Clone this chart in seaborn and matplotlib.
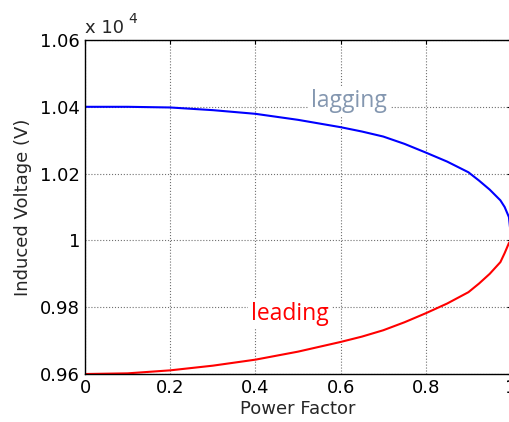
import pandas as pd
import matplotlib
matplotlib.use("Agg")
import matplotlib.pyplot as plt
import seaborn as sns
from matplotlib.ticker import FuncFormatter

# values (power factor vs induced voltage in V)
power_factor = [0.0, 0.1, 0.2, 0.3, 0.4, 0.5, 0.6, 0.65, 0.7, 0.75, 0.8, 0.85, 0.9,
                0.925, 0.95, 0.975, 0.985, 0.995, 1.0]
lagging_v = [10400, 10400, 10398, 10390, 10379, 10361, 10339, 10326, 10311, 10289, 10263, 10236, 10204,
             10179, 10152, 10120, 10100, 10070, 10010]
leading_v = [9600, 9602, 9611, 9625, 9643, 9667, 9696, 9712, 9731, 9755, 9782, 9811, 9845,
             9871, 9900, 9935, 9962, 9992, 10000]

df = pd.DataFrame({"pf": power_factor * 2,
                   "voltage": lagging_v + leading_v,
                   "case": ["lagging"] * len(power_factor) + ["leading"] * len(power_factor)})

sns.set_style("white")
plt.rcParams["font.family"] = ["DejaVu Sans"]

fig = plt.figure(figsize=(5.09, 4.22), dpi=100)
ax = fig.add_axes([0.167, 0.1137, 0.837, 0.7915])

sns.lineplot(data=df, x="pf", y="voltage", hue="case",
             palette={"lagging": "#0000ff", "leading": "#ff0000"},
             linewidth=1.5, legend=False, ax=ax)

ax.set_xlim(0, 1)
ax.set_ylim(9600, 10600)
ax.set_xticks([0, 0.2, 0.4, 0.6, 0.8, 1])
ax.set_yticks([9600, 9800, 10000, 10200, 10400, 10600])
ax.yaxis.set_major_formatter(FuncFormatter(lambda v, p: "%g" % round(v / 1e4, 2)))
ax.xaxis.set_major_formatter(FuncFormatter(lambda v, p: "%g" % round(v, 1)))
ax.grid(True, color="#707070", linestyle=":", linewidth=0.8)
ax.tick_params(direction="in", length=3, top=True, right=True, labelsize=13, colors="black")
for s in ax.spines.values():
    s.set_color("black")
    s.set_linewidth(1.0)

ax.set_xlabel("Power Factor", fontsize=13, labelpad=2)
ax.set_ylabel("Induced Voltage (V)", fontsize=13, labelpad=6)

# exponent label, MATLAB style
ax.annotate("x 10", xy=(0, 1), xycoords="axes fraction", xytext=(0, 5),
            textcoords="offset points", fontsize=13, ha="left", va="baseline")
ax.annotate("4", xy=(0, 1), xycoords="axes fraction", xytext=(31, 12),
            textcoords="offset points", fontsize=10, ha="left", va="baseline")

ax.text(0.62, 10417, "lagging", color="#8497b0", fontsize=16.5, family="Open Sans",
        ha="center", va="center", bbox=dict(facecolor="white", edgecolor="none", pad=2))
ax.text(0.48, 9780, "leading", color="#ff0000", fontsize=16.5, family="Open Sans",
        ha="center", va="center", bbox=dict(facecolor="white", edgecolor="none", pad=2))

fig.savefig("out.png", dpi=100)
